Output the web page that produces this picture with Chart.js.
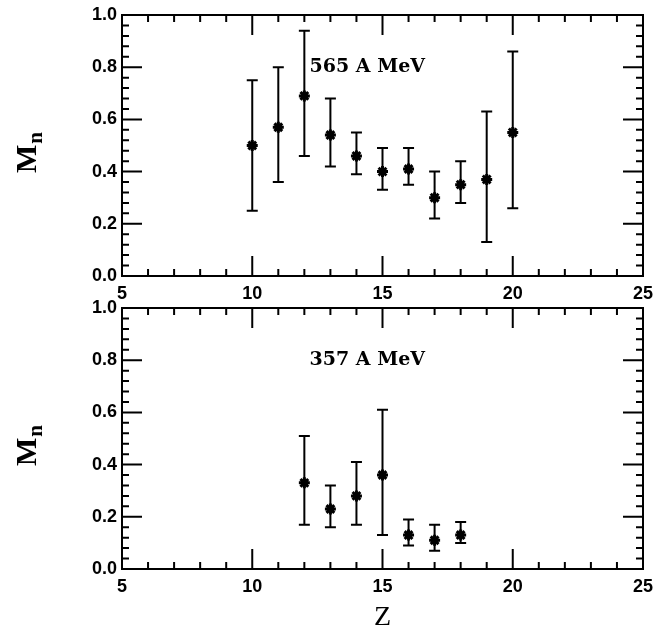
<!DOCTYPE html>
<html>
<head>
<meta charset="utf-8">
<script src="https://cdn.jsdelivr.net/npm/chart.js@4.4.1/dist/chart.umd.min.js"></script>
<style>
  html, body { margin: 0; padding: 0; background: #fff; }
  #wrap { position: relative; width: 654px; height: 629px; }
  canvas { position: absolute; left: 0; }
  #c565 { top: 0; }
  #c357 { top: 280px; }
</style>
</head>
<body>
<div id="wrap">
  <canvas id="c565" width="654" height="300"></canvas>
  <canvas id="c357" width="654" height="349"></canvas>
</div>
<script>
// Neutron multiplicity M_n versus fragment charge Z, two beam energies

// 565 A MeV
const z565  = [10, 11, 12, 13, 14, 15, 16, 17, 18, 19, 20];
const mn565 = [0.50, 0.57, 0.69, 0.54, 0.46, 0.40, 0.41, 0.30, 0.35, 0.37, 0.55];
const hi565 = [0.75, 0.80, 0.94, 0.68, 0.55, 0.49, 0.49, 0.40, 0.44, 0.63, 0.86];
const lo565 = [0.25, 0.36, 0.46, 0.42, 0.39, 0.33, 0.35, 0.22, 0.28, 0.13, 0.26];

// 357 A MeV
const z357  = [12, 13, 14, 15, 16, 17, 18];
const mn357 = [0.33, 0.23, 0.28, 0.36, 0.13, 0.11, 0.13];
const hi357 = [0.51, 0.32, 0.41, 0.61, 0.19, 0.17, 0.18];
const lo357 = [0.17, 0.16, 0.17, 0.13, 0.09, 0.07, 0.10];

const panelLabels = ['565 A MeV', '357 A MeV'];
const xLimits = [5, 25];
const yLimits = [0, 1];

const tickFont = { family: 'Liberation Sans', size: 18, weight: 'bold' };

function makePanel(canvasId, z, mn, lo, hi, label, padTop, xAxisHeight, showZ) {
  // frame with inward major/minor ticks on all four sides
  const framePlugin = {
    id: 'frame',
    afterDraw(chart) {
      const { ctx, chartArea: a, scales: { x, y } } = chart;
      ctx.save();
      ctx.strokeStyle = '#000';
      ctx.lineWidth = 2;
      ctx.beginPath();
      for (let v = xLimits[0] + 1; v < xLimits[1]; v++) {
        const px = x.getPixelForValue(v);
        const len = v % 5 === 0 ? 20 : 7;
        ctx.moveTo(px, a.bottom); ctx.lineTo(px, a.bottom - len);
        ctx.moveTo(px, a.top); ctx.lineTo(px, a.top + len);
      }
      for (let i = 1; i < 25; i++) {
        const py = y.getPixelForValue(i * 0.04);
        const len = i % 5 === 0 ? 20 : 7;
        ctx.moveTo(a.left, py); ctx.lineTo(a.left + len, py);
        ctx.moveTo(a.right, py); ctx.lineTo(a.right - len, py);
      }
      ctx.stroke();
      ctx.strokeRect(a.left, a.top, a.right - a.left, a.bottom - a.top);
      ctx.restore();
    }
  };

  // vertical error bars with caps
  const errorBarPlugin = {
    id: 'errorBars',
    beforeDatasetsDraw(chart) {
      const { ctx, scales: { x, y } } = chart;
      ctx.save();
      ctx.strokeStyle = '#000';
      ctx.lineWidth = 2;
      ctx.beginPath();
      z.forEach((zv, i) => {
        const px = x.getPixelForValue(zv);
        const yh = y.getPixelForValue(hi[i]);
        const yl = y.getPixelForValue(lo[i]);
        ctx.moveTo(px, yh); ctx.lineTo(px, yl);
        ctx.moveTo(px - 5.5, yh); ctx.lineTo(px + 5.5, yh);
        ctx.moveTo(px - 5.5, yl); ctx.lineTo(px + 5.5, yl);
      });
      ctx.stroke();
      ctx.restore();
    }
  };

  // energy label and the rotated M_n axis label with subscript
  const textPlugin = {
    id: 'texts',
    afterDraw(chart) {
      const { ctx, chartArea: a, scales: { x, y } } = chart;
      ctx.save();
      ctx.fillStyle = '#000';
      ctx.font = 'bold 19px "DejaVu Serif"';
      ctx.textAlign = 'left';
      ctx.textBaseline = 'middle';
      ctx.fillText(label, x.getPixelForValue(12.2), y.getPixelForValue(0.8));

      const mFont = 'bold 30px "Liberation Serif"';
      const nFont = 'bold 21px "Liberation Serif"';
      ctx.font = mFont;
      const wM = ctx.measureText('M').width;
      ctx.font = nFont;
      const wN = ctx.measureText('n').width;
      const total = wM + 1 + wN;
      const cy = (a.top + a.bottom) / 2 + 7;
      ctx.translate(36, cy + total / 2);
      ctx.rotate(-Math.PI / 2);
      ctx.textBaseline = 'alphabetic';
      ctx.font = mFont;
      ctx.fillText('M', 0, 0);
      ctx.font = nFont;
      ctx.fillText('n', wM + 1, 6);
      ctx.restore();
    }
  };

  return new Chart(document.getElementById(canvasId), {
    type: 'scatter',
    data: {
      datasets: [{
        data: z.map((v, i) => ({ x: v, y: mn[i] })),
        pointStyle: 'star',
        pointRadius: 5.5,
        pointHoverRadius: 5.5,
        pointBorderWidth: 3,
        borderColor: '#000',
        backgroundColor: '#000',
        showLine: false
      }]
    },
    options: {
      responsive: false,
      animation: false,
      devicePixelRatio: 1,
      layout: { padding: { left: 0, right: 11, top: padTop, bottom: 0 } },
      plugins: { legend: { display: false }, tooltip: { enabled: false } },
      scales: {
        x: {
          type: 'linear',
          min: xLimits[0], max: xLimits[1],
          grid: { display: false, drawTicks: false },
          border: { display: false },
          ticks: { stepSize: 5, font: tickFont, color: '#000', padding: 7, maxRotation: 0 },
          title: {
            display: showZ, text: 'Z', color: '#000',
            font: { family: 'Liberation Serif', size: 28, lineHeight: 0.82 },
            padding: 0
          },
          afterFit(scale) {
            scale.height = xAxisHeight;
            scale.paddingLeft = 0;
            scale.paddingRight = 0;
          }
        },
        y: {
          type: 'linear',
          min: yLimits[0], max: yLimits[1],
          grid: { display: false, drawTicks: false },
          border: { display: false },
          ticks: {
            stepSize: 0.2, font: tickFont, color: '#000', padding: 5,
            callback: v => v.toFixed(1)
          },
          afterFit(scale) {
            scale.width = 122;
            scale.paddingTop = 0;
            scale.paddingBottom = 0;
          }
        }
      }
    },
    plugins: [errorBarPlugin, framePlugin, textPlugin]
  });
}

makePanel('c565', z565, mn565, lo565, hi565, panelLabels[0], 15, 24, false);
makePanel('c357', z357, mn357, lo357, hi357, panelLabels[1], 28, 60, true);
</script>
</body>
</html>
